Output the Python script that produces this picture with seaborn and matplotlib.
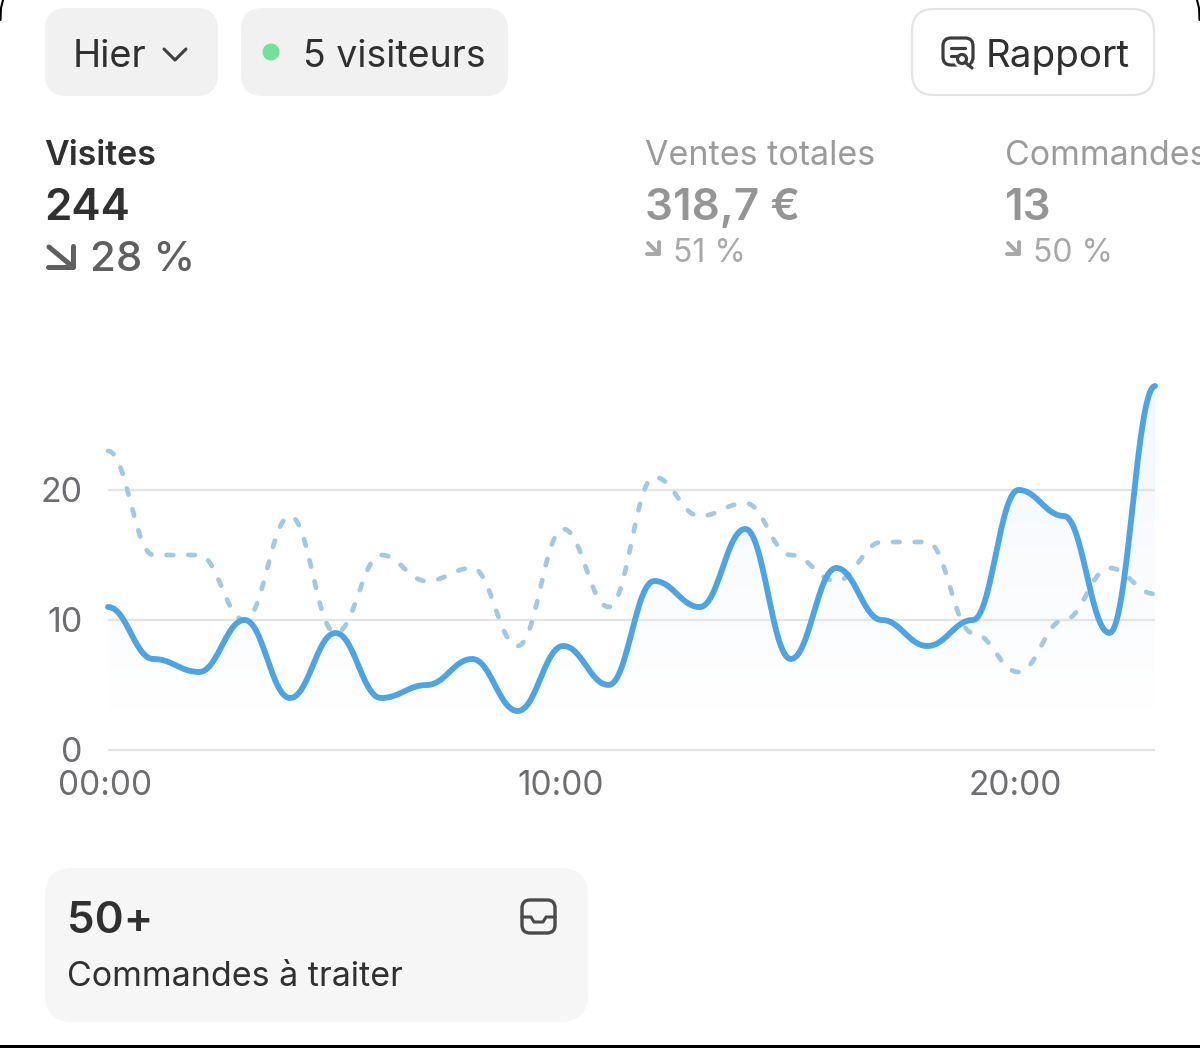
import numpy as np
import pandas as pd
import matplotlib
matplotlib.use("Agg")
import matplotlib.pyplot as plt
from matplotlib.colors import to_rgb
from matplotlib.patches import FancyBboxPatch, Circle, Polygon, Rectangle
from matplotlib.transforms import ScaledTranslation
import seaborn as sns

# --- values ---
hours = list(range(24))
visites_hier = [11, 7, 6, 10, 4, 9, 4, 5, 7, 3, 8, 5, 13, 11, 17, 7, 14, 10, 8, 10, 20, 18, 9, 28]
visites_avant = [23, 15, 15, 10, 18, 9, 15, 13, 14, 8, 17, 11, 21, 18, 19, 15, 13, 16, 16, 9, 6, 10, 14, 12]
y_ticks = [0, 10, 20]
x_ticks = [0, 10, 20]
x_labels = ["00:00", "10:00", "20:00"]

BLUE = "#4ea3e2"
BLUE_LIGHT = "#a2c8e2"
FONT = "Inter"


def smooth_curve(x, y, k=0.41, per_step=30):
    # bezier between the points, flat at each point, like the app's chart curve
    x = np.asarray(x, float)
    y = np.asarray(y, float)
    t = np.linspace(0, 1, per_step, endpoint=False)
    fx = 3 * (1 - t)**2 * t * k + 3 * (1 - t) * t**2 * (1 - k) + t**3
    fy = 3 * (1 - t) * t**2 + t**3
    xs = [x[i] + fx * (x[i + 1] - x[i]) for i in range(len(x) - 1)]
    ys = [y[i] + fy * (y[i + 1] - y[i]) for i in range(len(y) - 1)]
    return np.concatenate(xs + [x[-1:]]), np.concatenate(ys + [y[-1:]])


sns.set_style("white")
plt.rcParams["font.family"] = [FONT, "DejaVu Sans"]

W, H = 1200, 1048
fig = plt.figure(figsize=(W / 100, H / 100), dpi=100, facecolor="white")

# --- chart, placed so that 0 sits at y=750 and one unit is 13 px ---
px_bottom, px_top = 763, 360
ax = fig.add_axes([108 / W, 1 - px_bottom / H, (1155 - 108) / W, (px_bottom - px_top) / H])

x_new, y_new = smooth_curve(hours, visites_hier)
x_old, y_old = smooth_curve(hours, visites_avant)
df_new = pd.DataFrame({"heure": x_new, "visites": y_new})
df_old = pd.DataFrame({"heure": x_old, "visites": y_old})

# faint gradient under the main line, opaque so it has no banding
fade = np.linspace(1, 0, 256)[:, None, None]
grad = fade * np.array(to_rgb("#f3f7fc")) + (1 - fade) * np.ones(3)
grad = np.repeat(grad, 2, axis=1)
im = ax.imshow(grad, extent=[0, 23, 3, 28], origin="upper", aspect="auto", zorder=0.1)
clip = Polygon(np.column_stack([np.r_[x_new, 23, 0], np.r_[y_new, 0, 0]]), transform=ax.transData,
               facecolor="none", edgecolor="none")
ax.add_patch(clip)
im.set_clip_path(clip)

ax.set_xlim(0, 23)
ax.set_ylim(-1, 30)
ax.set_yticks(y_ticks)
ax.set_xticks(x_ticks)
ax.set_xticklabels(x_labels)
ax.grid(axis="y", color="#e4e4e4", lw=1.7)
ax.grid(axis="x", visible=False)
ax.set_axisbelow(True)
ax.tick_params(axis="y", length=0, pad=18.5, labelsize=24.5, labelcolor="#6d6d72")
ax.tick_params(axis="x", length=0, pad=5, labelsize=24, labelcolor="#6d6d72")
shift = ScaledTranslation(-3 / 100, 0, fig.dpi_scale_trans)
for lab in ax.get_xticklabels():
    lab.set_transform(lab.get_transform() + shift)
sns.despine(ax=ax, left=True, bottom=True, top=True, right=True)
ax.patch.set_alpha(0)

sns.lineplot(data=df_old, x="heure", y="visites", ax=ax, color=BLUE_LIGHT, lw=3.4,
             estimator=None, sort=False, linestyle=(0, (1.4, 3.2)), dash_capstyle="round",
             clip_on=False, zorder=3)
sns.lineplot(data=df_new, x="heure", y="visites", ax=ax, color=BLUE, lw=4.2,
             estimator=None, sort=False, solid_capstyle="round", clip_on=False, zorder=4)
ax.set_xlabel("")
ax.set_ylabel("")

# --- the interface around the chart, in image pixels ---
ui = fig.add_axes([0, 0, 1, 1], zorder=5)
ui.set_xlim(0, W)
ui.set_ylim(H, 0)
ui.axis("off")
ui.patch.set_alpha(0)


def chip(x0, y0, x1, y1, r, fc, ec="none", lw=0):
    ui.add_patch(FancyBboxPatch((x0 + r, y0 + r), x1 - x0 - 2 * r, y1 - y0 - 2 * r,
                                boxstyle=f"round,pad={r},rounding_size={r}",
                                fc=fc, ec=ec, lw=lw))


def label(x, y, s, size, color, weight="normal"):
    ui.text(x, y, s, fontsize=size * 0.72, color=color, fontweight=weight, va="baseline",
            ha="left", family=[FONT, "DejaVu Sans"])


def arrow(x0, y0, x1, y1, color, lw):
    # down-right arrow with an L head
    ui.plot([x0, x1], [y0, y1], color=color, lw=lw, solid_capstyle="round")
    ui.plot([x0 - 1, x1, x1], [y1, y1, y0 - 1], color=color, lw=lw,
            solid_capstyle="round", solid_joinstyle="round")


chip(45, 8, 218, 96, 22, "#f1f1f2")
chip(241, 8, 508, 96, 22, "#f1f1f2")
chip(912, 9, 1154, 95, 22, "white", "#e4e4e4", 1.6)
chip(45, 868, 588, 1022, 28, "#f6f6f6")

label(73, 67, "Hier", 38, "#303030")
ui.plot([164, 175, 186], [49, 60, 49], color="#404040", lw=2.2, solid_capstyle="round", solid_joinstyle="round")
ui.add_patch(Circle((271, 52), 8.5, color="#74e19b", lw=0))
label(303, 67, "5 visiteurs", 37.5, "#303030")
label(986, 67, "Rapport", 38.6, "#303030")

# report icon
chip(943, 38, 973, 65, 8, "none", "#3c3c3c", 2.3)
ui.plot([951, 965], [48, 48], color="#3c3c3c", lw=2.3, solid_capstyle="round")
ui.plot([951, 957], [56, 56], color="#3c3c3c", lw=2.3, solid_capstyle="round")
ui.add_patch(Circle((962, 60), 8, fc="white", ec="none"))
ui.add_patch(Circle((962, 59), 4.5, fc="white", ec="#3c3c3c", lw=2.3))
ui.plot([966, 972], [63, 68], color="#3c3c3c", lw=2.3, solid_capstyle="round")

label(44, 165, "Visites", 34, "#303030", 600)
label(44, 220, "244", 44, "#303030", 600)
arrow(49, 247, 73, 267, "#5f5f5f", 3.6)
label(90, 271, "28 %", 42, "#5f5f5f", 500)

label(645, 165, "Ventes totales", 34, "#9b9b9b")
label(645, 220, "318,7 €", 44, "#959595", 600)
arrow(648, 243, 659, 254, "#a8a8a8", 2.8)
label(673, 262, "51 %", 32, "#a8a8a8")

label(1005, 165, "Commandes", 34, "#9b9b9b")
label(1005, 220, "13", 44, "#959595", 600)
arrow(1008, 243, 1019, 254, "#a8a8a8", 2.8)
label(1033, 262, "50 %", 32, "#a8a8a8")

label(67, 933, "50+", 44, "#303030", 600)
label(67, 986, "Commandes à traiter", 34, "#303030")

# inbox icon
chip(522, 900, 555, 933, 8, "none", "#4a4a4a", 2.4)
ui.plot([522, 531, 534, 543, 546, 555], [917, 917, 922, 922, 917, 917], color="#4a4a4a", lw=2.2,
        solid_joinstyle="round")

# screenshot edges
ui.add_patch(Rectangle((0, 1045), W, 3, color="black", lw=0))
ui.plot([0.5, 1, 3], [20, 8, 0], color="black", lw=1.5)
ui.plot([1199.5, 1199, 1197], [20, 8, 0], color="black", lw=1.5)

fig.savefig("out.png", dpi=100)
